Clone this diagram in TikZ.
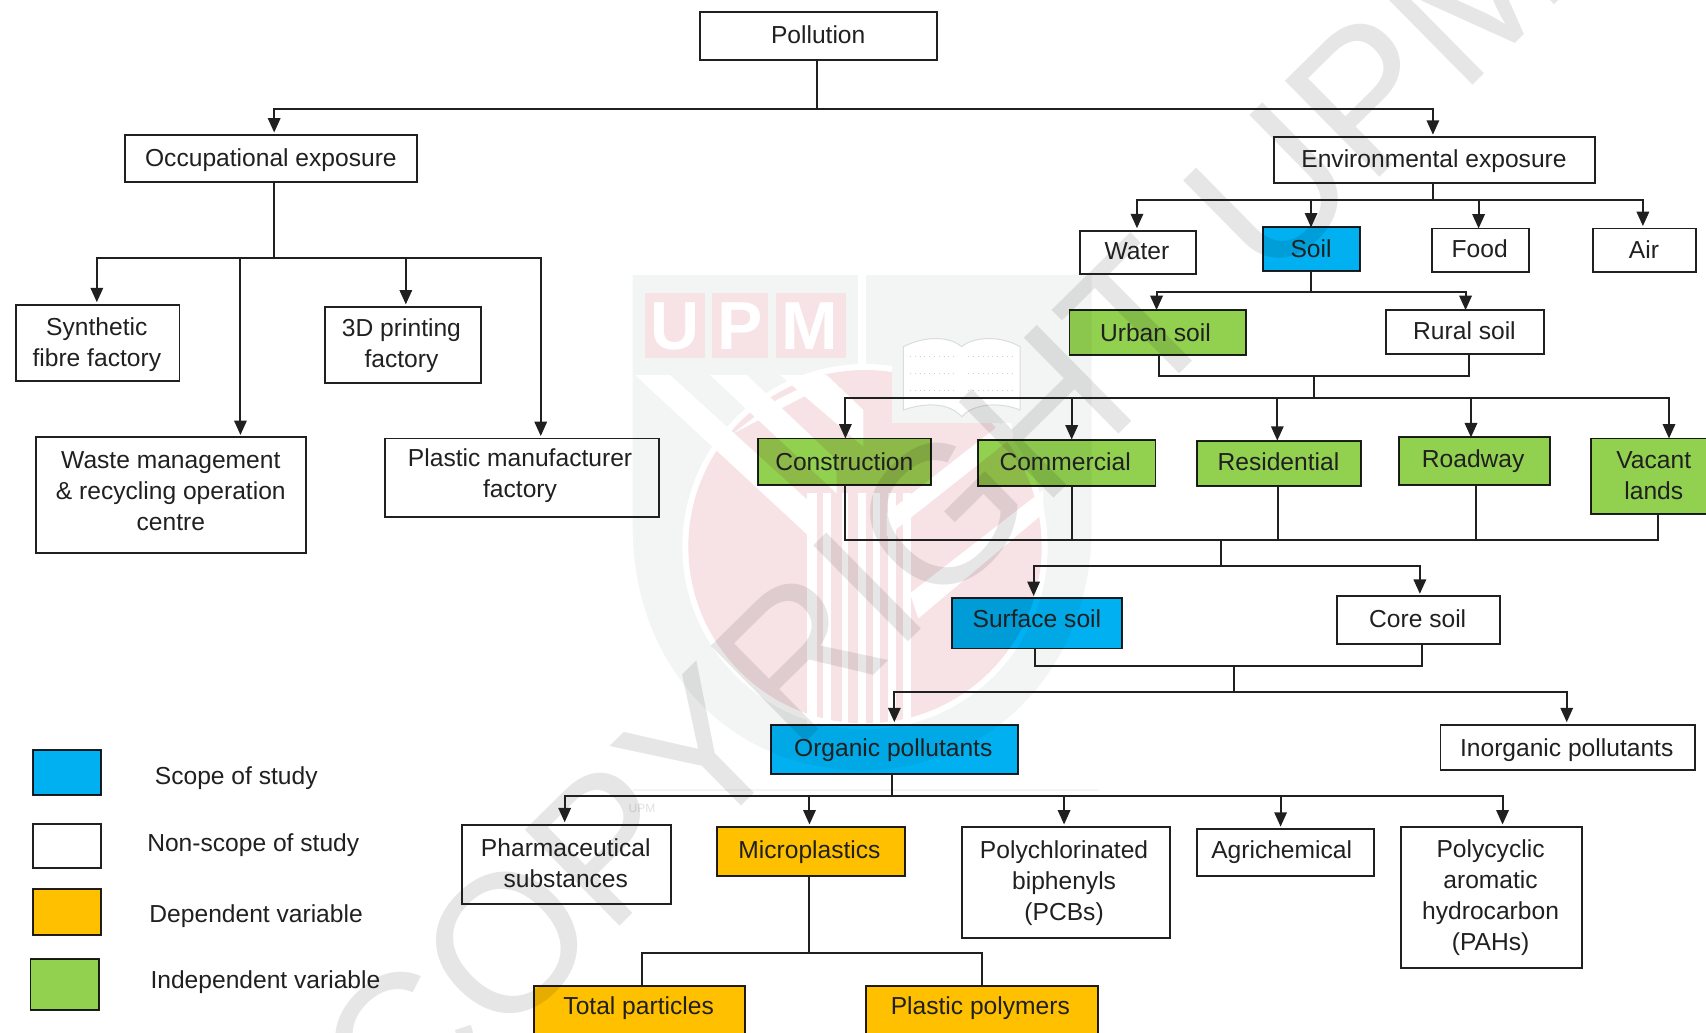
\documentclass[tikz,border=0pt]{standalone}
\usepackage{fontspec}
\setmainfont{Liberation Sans}
\usetikzlibrary{arrows.meta,calc}
\definecolor{ink}{HTML}{202020}
\definecolor{cblue}{HTML}{00B0F0}
\definecolor{corange}{HTML}{FFC000}
\definecolor{cgreen}{HTML}{92D050}
\definecolor{shieldc}{HTML}{F3F4F4}
\definecolor{pinkc}{HTML}{F7E3E6}
\definecolor{wmark}{HTML}{E6E6E6}
\tikzset{
  box/.style={draw=ink,line width=0.95pt,inner sep=0pt,outer sep=0pt},
  fillblue/.style={fill=cblue,blend mode=multiply},
  fillorange/.style={fill=corange,blend mode=multiply},
  fillgreen/.style={fill=cgreen,blend mode=multiply},
  fillnone/.style={},
  lbl/.style={font=\fontsize{12.3}{15.5}\selectfont,text=ink,align=center,inner sep=0pt},
  legendlbl/.style={lbl,anchor=west},
  conn/.style={draw=ink,line width=1pt},
  arr/.style={conn,-{Triangle[length=7.2pt,width=6.2pt]}},
}
\newcommand{\bx}[9]{%
  \node[box,#2,minimum width={(#5-#3)*0.544pt},minimum height={(#6-#4)*0.544pt}] (#1) at ({(#3+#5)/2},{(#4+#6)/2}) {};
  \node[lbl] (#1-t) at (#7,#8) {#9};
}
\begin{document}
\begin{tikzpicture}[x=0.544pt,y=-0.544pt]
\useasboundingbox (0,0) rectangle (1568,948.6);

% watermark: logo (under everything)
\begin{scope}[shift={(305pt,-130pt)},x=0.16667pt,y=-0.16667pt]
  \fill[shieldc] (68,45) -- (1445,45) -- (1445,800) .. controls (1445,1220) and (1150,1530) .. (755,1530) .. controls (360,1530) and (68,1220) .. (68,800) -- cycle;
  \fill[white] (745,45) rectangle (768,360);
  \fill[white] (765,860) circle (548);
  \fill[pinkc] (765,860) circle (530);
  % diagonal white bands
  \fill[white] (75,345) -- (180,345) -- (620,745) -- (620,850) -- cycle;
  \fill[white] (300,345) -- (410,345) -- (680,600) -- (680,700) -- cycle;
  \fill[white] (510,345) -- (650,345) -- (760,450) -- (760,560) -- cycle;
  \fill[white] (500,420) -- (560,390) -- (600,400) -- (370,520) -- cycle;
  % chevron right
  \fill[white] (900,1000) -- (1300,690) -- (1300,760) -- (925,1075) -- cycle;
  \fill[white] (830,760) -- (1200,470) -- (1210,530) -- (830,830) -- cycle;
  % vertical stripes
  \foreach \sx/\sw in {590/30,640/22,695/20,745/22,790/20,835/22,880/22}{
    \fill[white] (\sx,700) rectangle (\sx+\sw,1400);
  }
  % UPM panel
  \fill[pinkc] (105,100) rectangle (285,295);
  \fill[pinkc] (307,100) rectangle (475,295);
  \fill[pinkc] (497,100) rectangle (708,295);
  \node[font=\fontsize{34}{34}\selectfont\bfseries,text=white,inner sep=0pt] (logoU) at (195,198) {U};
  \node[font=\fontsize{34}{34}\selectfont\bfseries,text=white,inner sep=0pt] (logoP) at (392,198) {P};
  \node[font=\fontsize{34}{34}\selectfont\bfseries,text=white,inner sep=0pt] (logoM) at (600,198) {M};
  % book
  \fill[shieldc] (845,300) rectangle (1270,490);
  \fill[white,draw=shieldc!90!black,line width=0.5pt] (880,260) .. controls (950,225) and (1020,230) .. (1055,260) .. controls (1090,230) and (1170,225) .. (1230,260) -- (1230,450) .. controls (1170,425) and (1090,430) .. (1055,470) .. controls (1020,430) and (950,425) .. (880,450) -- cycle;
  \draw[shieldc!85!black,line width=0.4pt,dotted] (900,290) -- (1035,290);
  \draw[shieldc!85!black,line width=0.4pt,dotted] (900,340) -- (1035,340);
  \draw[shieldc!85!black,line width=0.4pt,dotted] (900,390) -- (1035,390);
  \draw[shieldc!85!black,line width=0.4pt,dotted] (1075,290) -- (1215,290);
  \draw[shieldc!85!black,line width=0.4pt,dotted] (1075,340) -- (1215,340);
  \draw[shieldc!85!black,line width=0.4pt,dotted] (1075,390) -- (1215,390);
\end{scope}
\fill[shieldc] (582,725) rectangle (1010,727);
\node[font=\fontsize{6}{6}\selectfont,text=shieldc!92!black,inner sep=0pt] (logoSmall) at (590,743) {UPM};
\begin{scope}[blend mode=multiply]
  \node[font=\fontsize{98}{98}\selectfont,text=wmark,rotate=44.6,inner sep=0pt] (copy) at (865,473) {COPYRIGHT UPM};
\end{scope}

% boxes
\bx{poll}{fillnone}{643}{11}{861}{55}{752}{32}{Pollution}
\bx{occ}{fillnone}{115}{124}{383}{167}{249}{147}{Occupational exposure}
\bx{env}{fillnone}{1171}{126}{1466}{168}{1318}{148}{Environmental exposure}
\bx{syn}{fillnone}{15}{280}{165}{350}{89}{316.5}{Synthetic\\fibre factory}
\bx{tdp}{fillnone}{299}{282}{442}{352}{369}{318}{3D printing\\factory}
\bx{waste}{fillnone}{33}{402}{281}{508}{157}{451}{Waste management\\\& recycling operation\\centre}
\bx{plastic}{fillnone}{354}{403}{606}{475}{478}{437.5}{Plastic manufacturer\\factory}
\bx{water}{fillnone}{993}{212}{1099}{252}{1045}{231}{Water}
\bx{soil}{fillblue}{1161}{209}{1250}{249}{1205}{229}{Soil}
\bx{food}{fillnone}{1316}{210}{1405}{250}{1360}{229}{Food}
\bx{air}{fillnone}{1464}{210}{1559}{250}{1511}{229}{Air}
\bx{urban}{fillgreen}{983}{285}{1145}{326}{1062}{306}{Urban soil}
\bx{rural}{fillnone}{1274}{285}{1419}{325}{1346}{304}{Rural soil}
\bx{constr}{fillgreen}{697}{403}{856}{446}{776}{424}{Construction}
\bx{comm}{fillgreen}{899}{404}{1062}{447}{979}{424}{Commercial}
\bx{resi}{fillgreen}{1100}{405}{1251}{447}{1175}{424}{Residential}
\bx{road}{fillgreen}{1286}{402}{1425}{446}{1354}{424}{Roadway}
\bx{vacant}{fillgreen}{1462}{403}{1580}{472}{1520}{437}{Vacant\\lands}
\bx{surf}{fillblue}{875}{550}{1031}{596}{953}{569}{Surface soil}
\bx{core}{fillnone}{1229}{548}{1379}{592}{1303}{569}{Core soil}
\bx{org}{fillblue}{709}{666}{936}{711}{821}{689}{Organic pollutants}
\bx{inorg}{fillnone}{1324}{666}{1558}{708}{1440}{689}{Inorganic pollutants}
\bx{pharm}{fillnone}{425}{758}{617}{831}{520}{793}{Pharmaceutical\\substances}
\bx{micro}{fillorange}{659}{760}{832}{805}{744}{783}{Microplastics}
\bx{pcb}{fillnone}{884}{760}{1075}{862}{978}{812}{Polychlorinated\\biphenyls\\(PCBs)}
\bx{agri}{fillnone}{1100}{762}{1263}{805}{1178}{783}{Agrichemical}
\bx{pah}{fillnone}{1288}{760}{1454}{890}{1370}{825}{Polycyclic\\aromatic\\hydrocarbon\\(PAHs)}
\bx{total}{fillorange}{491}{906}{685}{960}{587}{927}{Total particles}
\bx{ppoly}{fillorange}{796}{906}{1009}{960}{901}{927}{Plastic polymers}

% legend
\node[box,fillblue,minimum width={63*0.544pt},minimum height={42*0.544pt}] (lgblue) at (61.5,710) {};
\node[box,fillnone,minimum width={63*0.544pt},minimum height={41*0.544pt}] (lgwhite) at (61.5,777.5) {};
\node[box,fillorange,minimum width={63*0.544pt},minimum height={42*0.544pt}] (lgorange) at (61.5,838) {};
\node[box,fillgreen,minimum width={63*0.544pt},minimum height={47*0.544pt}] (lggreen) at (59.5,904.5) {};
\node[legendlbl] (lgt1) at (142,715) {Scope of study};
\node[legendlbl] (lgt2) at (135,777) {Non-scope of study};
\node[legendlbl] (lgt3) at (137,842) {Dependent variable};
\node[legendlbl] (lgt4) at (138,903) {Independent variable};

% buses
\coordinate (busA) at (0,100);
\coordinate (busB) at (0,237);
\coordinate (busC) at (0,184);
\coordinate (busD) at (0,268);
\coordinate (busE) at (0,346);
\coordinate (busF) at (0,366);
\coordinate (busG) at (0,496);
\coordinate (busH) at (0,520);
\coordinate (busI) at (0,612);
\coordinate (busJ) at (0,636);
\coordinate (busK) at (0,732);
\coordinate (busL) at (0,876);

\tikzset{endgap/.style={shorten >=1.2pt}}
% pollution
\draw[conn] (751,0 |- poll.south) -- (751,0 |- busA);
\draw[arr,endgap] (751,0 |- busA) -| (252,0 |- occ.north);
\draw[arr,endgap] (751,0 |- busA) -| (1317,0 |- env.north);
% occupational
\draw[conn] (252,0 |- occ.south) -- (252,0 |- busB);
\draw[arr,endgap] (252,0 |- busB) -| (89,0 |- syn.north);
\draw[arr,endgap] (252,0 |- busB) -| (497,0 |- plastic.north);
\draw[arr,endgap] (221,0 |- busB) -- (221,0 |- waste.north);
\draw[arr,endgap] (373,0 |- busB) -- (373,0 |- tdp.north);
% environmental
\draw[conn] (1317,0 |- env.south) -- (1317,0 |- busC);
\draw[arr,endgap] (1317,0 |- busC) -| (1045,0 |- water.north);
\draw[arr,endgap] (1317,0 |- busC) -| (1510,0 |- air.north);
\draw[arr] (1205,0 |- busC) -- (1205,0 |- soil.north);
\draw[arr] (1359,0 |- busC) -- (1359,0 |- food.north);
% soil
\draw[conn] (1205,0 |- soil.south) -- (1205,0 |- busD);
\draw[arr] (1205,0 |- busD) -| (1063,0 |- urban.north);
\draw[arr] (1205,0 |- busD) -| (1347,0 |- rural.north);
% urban/rural
\draw[conn] (1065,0 |- urban.south) |- (1350,0 |- busE) -- (1350,0 |- rural.south);
\draw[conn] (1208,0 |- busE) -- (1208,0 |- busF);
\draw[arr] (1208,0 |- busF) -| (777,0 |- constr.north);
\draw[arr] (1208,0 |- busF) -| (1534,0 |- vacant.north);
\draw[arr] (985,0 |- busF) -- (985,0 |- comm.north);
\draw[arr] (1174,0 |- busF) -- (1174,0 |- resi.north);
\draw[arr] (1352,0 |- busF) -- (1352,0 |- road.north);
% land uses
\draw[conn] (777,0 |- constr.south) |- (1524,0 |- busG) -- (1524,0 |- vacant.south);
\draw[conn] (985,0 |- comm.south) -- (985,0 |- busG);
\draw[conn] (1175,0 |- resi.south) -- (1175,0 |- busG);
\draw[conn] (1357,0 |- road.south) -- (1357,0 |- busG);
\draw[conn] (1122,0 |- busG) -- (1122,0 |- busH);
\draw[arr,endgap] (1122,0 |- busH) -| (950,0 |- surf.north);
\draw[arr,endgap] (1122,0 |- busH) -| (1305,0 |- core.north);
% surface/core
\draw[conn] (951,0 |- surf.south) |- (1307,0 |- busI) -- (1307,0 |- core.south);
\draw[conn] (1134,0 |- busI) -- (1134,0 |- busJ);
\draw[arr,endgap] (1134,0 |- busJ) -| (822,0 |- org.north);
\draw[arr,endgap] (1134,0 |- busJ) -| (1440,0 |- inorg.north);
% organic
\draw[conn] (820,0 |- org.south) -- (820,0 |- busK);
\draw[arr,endgap] (820,0 |- busK) -| (519,0 |- pharm.north);
\draw[arr,endgap] (820,0 |- busK) -| (1381,0 |- pah.north);
\draw[arr,endgap] (744,0 |- busK) -- (744,0 |- micro.north);
\draw[arr,endgap] (978,0 |- busK) -- (978,0 |- pcb.north);
\draw[arr,endgap] (1177,0 |- busK) -- (1177,0 |- agri.north);
% microplastics
\draw[conn] (744,0 |- micro.south) -- (744,0 |- busL);
\draw[conn] (590,0 |- total.north) |- (903,0 |- busL) -- (903,0 |- ppoly.north);
\end{tikzpicture}
\end{document}
